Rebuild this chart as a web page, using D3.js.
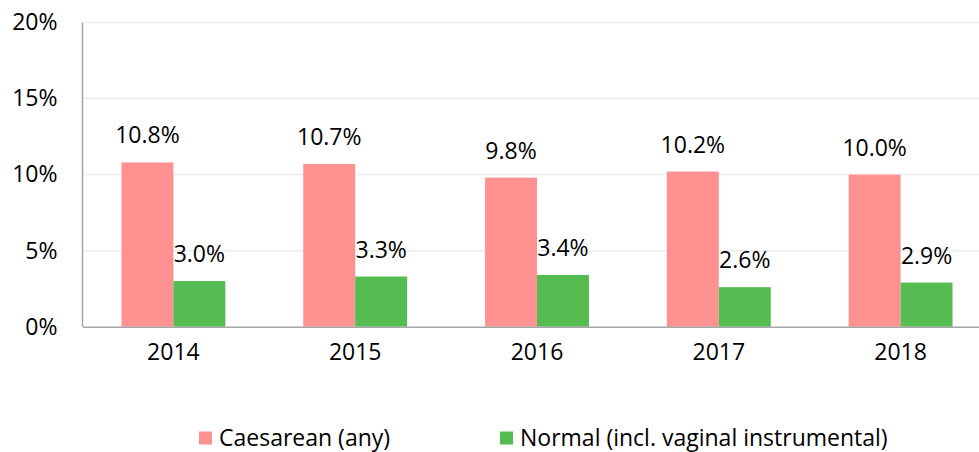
<!DOCTYPE html>
<html>
<head>
<meta charset="utf-8">
<script src="https://cdn.jsdelivr.net/npm/d3@7"></script>
<style>
  body { margin: 0; background: #fff; }
  svg text { font-family: "Open Sans", "Noto Sans", sans-serif; fill: #000; }
</style>
</head>
<body>
<svg id="chart" width="979" height="452"></svg>
<script>
// data
let years = ['2014', '2015', '2016', '2017', '2018'];
let caesarean = [10.8, 10.7, 9.8, 10.2, 10.0];
let normal = [3.0, 3.3, 3.4, 2.6, 2.9];
let seriesNames = ['Caesarean (any)', 'Normal (incl. vaginal instrumental)'];
let seriesColors = ['#FF9191', '#55BC51'];
let yTicks = [0, 5, 10, 15, 20];

let fontSize = 23;

let svg = d3.select('#chart');

let margin = { top: 22.5, left: 82.5 },
    plotRight = 991.5,
    plotBottom = 326.7;

let xScale = d3.scaleBand()
    .domain(years)
    .range([margin.left, plotRight])
    .paddingInner(0.4286)
    .paddingOuter(0.2143);

let yScale = d3.scaleLinear()
    .domain([0, 20])
    .range([plotBottom, margin.top]);

let xSub = d3.scaleBand()
    .domain([0, 1])
    .range([0, xScale.bandwidth()]);

// gridlines
svg.append('g')
    .selectAll('line')
    .data(yTicks.filter(d => d > 0))
    .join('line')
    .attr('x1', margin.left)
    .attr('x2', 979)
    .attr('y1', d => yScale(d))
    .attr('y2', d => yScale(d))
    .attr('stroke', '#ECECEC')
    .attr('stroke-width', 1.5);

// y axis labels
let yAxis = svg.append('g')
    .attr('transform', 'translate(' + margin.left + ',0)')
    .call(d3.axisLeft(yScale).tickValues(yTicks).tickSize(0).tickPadding(25).tickFormat(d => d + '%'));
yAxis.select('.domain').remove();
yAxis.selectAll('text')
    .attr('font-size', fontSize)
    .attr('font-family', '"Open Sans", sans-serif')
    .attr('fill', '#000');

// bars
let rows = years.map((y, i) => ({ year: y, values: [caesarean[i], normal[i]] }));

let groups = svg.append('g')
    .selectAll('g')
    .data(rows)
    .join('g')
    .attr('transform', d => 'translate(' + xScale(d.year) + ',0)');

groups.selectAll('rect')
    .data(d => d.values.map((v, k) => ({ v: v, k: k })))
    .join('rect')
    .attr('x', d => xSub(d.k))
    .attr('y', d => yScale(d.v))
    .attr('width', xSub.bandwidth())
    .attr('height', d => plotBottom - yScale(d.v))
    .attr('fill', d => seriesColors[d.k]);

// data labels
groups.selectAll('text')
    .data(d => d.values.map((v, k) => ({ v: v, k: k })))
    .join('text')
    .attr('x', d => xSub(d.k) + xSub.bandwidth() / 2)
    .attr('y', d => yScale(d.v) - 19)
    .attr('text-anchor', 'middle')
    .attr('font-size', fontSize)
    .text(d => d.v.toFixed(1) + '%');

// axis lines
svg.append('line')
    .attr('x1', margin.left).attr('x2', margin.left)
    .attr('y1', margin.top).attr('y2', plotBottom)
    .attr('stroke', '#A6A6A6').attr('stroke-width', 1.5);

let xAxis = svg.append('g')
    .attr('transform', 'translate(0,' + plotBottom + ')')
    .call(d3.axisBottom(xScale).tickSize(0).tickPadding(17));
xAxis.select('.domain')
    .attr('stroke', '#A6A6A6').attr('stroke-width', 1.5);
xAxis.selectAll('text')
    .attr('font-size', fontSize)
    .attr('font-family', '"Open Sans", sans-serif')
    .attr('fill', '#000');

// legend
let legendX = [199, 500];
let legend = svg.append('g')
    .selectAll('g')
    .data(seriesNames)
    .join('g')
    .attr('transform', (d, i) => 'translate(' + legendX[i] + ',438)');

legend.append('rect')
    .attr('x', 0).attr('y', -6.5)
    .attr('width', 13).attr('height', 13)
    .attr('fill', (d, i) => seriesColors[i]);

legend.append('text')
    .attr('x', 20)
    .attr('y', 0)
    .attr('dy', '0.35em')
    .attr('font-size', fontSize)
    .text(d => d);
</script>
</body>
</html>
